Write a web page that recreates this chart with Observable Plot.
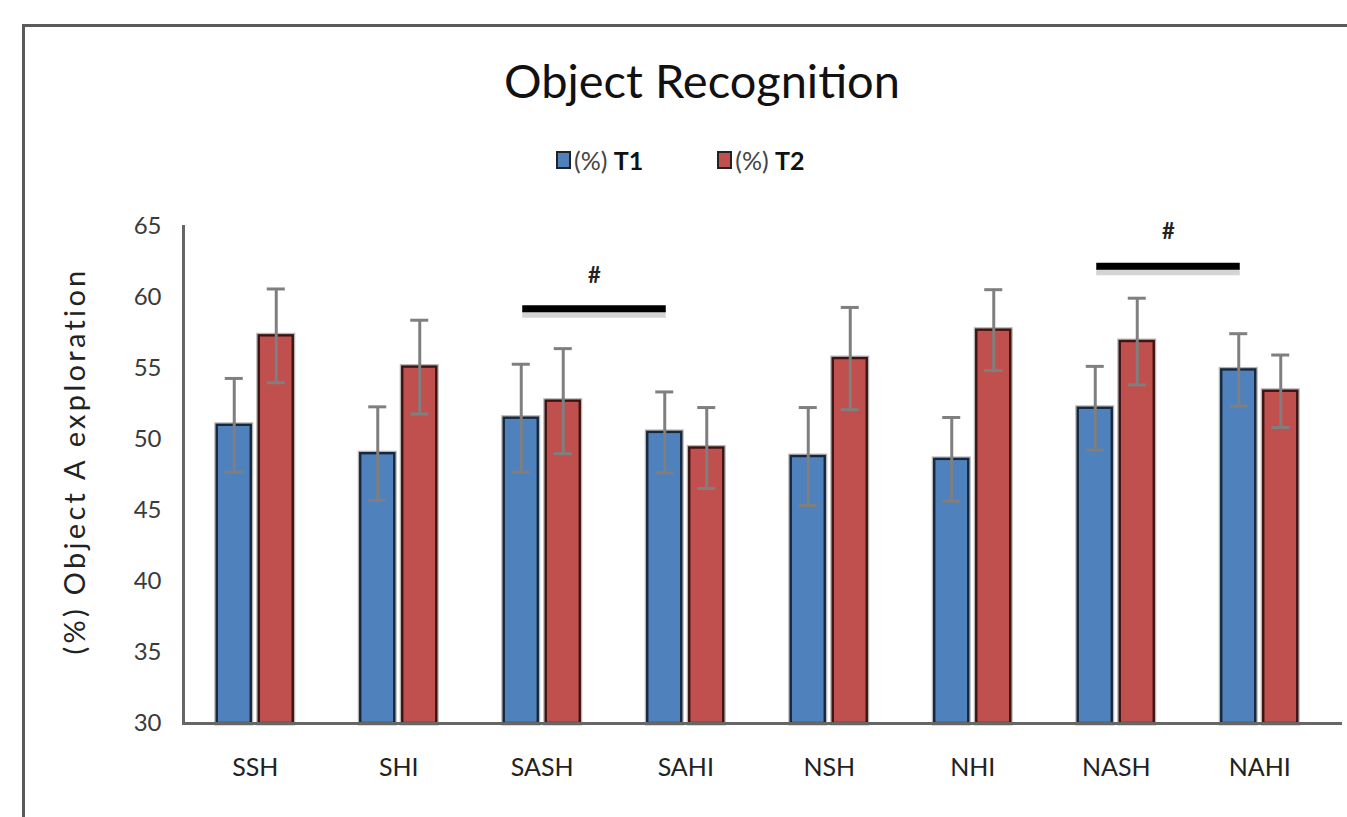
<!DOCTYPE html>
<html>
<head>
<meta charset="utf-8">
<script src="https://cdn.jsdelivr.net/npm/d3@7"></script>
<script src="https://cdn.jsdelivr.net/npm/@observablehq/plot@0.6"></script>
<style>
  html, body { margin: 0; padding: 0; background: #fff; }
  #page { position: relative; width: 1347px; height: 817px; overflow: hidden; font-family: Lato, "Open Sans", sans-serif; }
  #border { position: absolute; left: 22px; top: 24px; width: 1400px; height: 900px; border-left: 3px solid #5a5a5a; border-top: 3px solid #5a5a5a; }
  #title { position: absolute; left: 0; width: 1404px; top: 50px; text-align: center; font-size: 47px; color: #111; line-height: 60px; }
  #legend { position: absolute; top: 145px; left: 556px; display: flex; gap: 74px; font-size: 25px; color: #222; line-height: 30px; }
  .item { display: flex; align-items: center; gap: 3px; }
  .sw { width: 11px; height: 14px; border: 2px solid #222; }
  .lt b { font-weight: 700; color: #111; }
  .lt span { color: #444; }
  #ylabel { position: absolute; left: 73px; top: 461px; transform: translate(-50%, -50%) rotate(-90deg); white-space: nowrap; font-size: 29px; letter-spacing: 3.3px; color: #222; }
  #chart { position: absolute; left: 0; top: 200px; }
</style>
</head>
<body>
<div id="page">
  <div id="border"></div>
  <div id="title">Object Recognition</div>
  <div id="legend"></div>
  <div id="ylabel">(%) Object A exploration</div>
  <div id="chart"></div>
</div>
<script>
// ---- data ----
const categories = ["SSH", "SHI", "SASH", "SAHI", "NSH", "NHI", "NASH", "NAHI"];
const seriesNames = ["(%) T1", "(%) T2"];
const t1Values = [51.0, 49.0, 51.5, 50.5, 48.8, 48.6, 52.2, 54.9];
const t1Errors = [3.3, 3.3, 3.8, 2.85, 3.45, 2.95, 2.95, 2.55];
const t2Values = [57.3, 55.1, 52.7, 49.4, 55.7, 57.7, 56.9, 53.4];
const t2Errors = [3.3, 3.3, 3.7, 2.85, 3.6, 2.85, 3.05, 2.55];
const yTicks = [30, 35, 40, 45, 50, 55, 60, 65];
const sigFrom = ["SASH", "NASH"];
const sigTo = ["SAHI", "NAHI"];
const sigLineY = [59.2, 62.2];
const sigMarkY = [61.5, 64.6];
const sigLabel = ["#", "#"];

const colors = ["#4f81bd", "#c0504d"];
const strokes = ["#17283d", "#3d1414"];

// legend
const legend = document.getElementById("legend");
seriesNames.forEach((s, i) => {
  const it = document.createElement("div");
  it.className = "item";
  const sw = document.createElement("span");
  sw.className = "sw";
  sw.style.background = colors[i];
  const tx = document.createElement("span");
  tx.className = "lt";
  const k = s.lastIndexOf(" ");
  const a = document.createElement("span");
  a.textContent = s.slice(0, k + 1);
  const b = document.createElement("b");
  b.textContent = s.slice(k + 1);
  tx.append(a, b);
  it.append(sw, tx);
  legend.append(it);
});

const rows = categories.map((c, i) => ({cat: c, t1: t1Values[i], e1: t1Errors[i], t2: t2Values[i], e2: t2Errors[i]}));
const sig = sigFrom.map((a, i) => ({a, b: sigTo[i], y: sigLineY[i], ty: sigMarkY[i], label: sigLabel[i]}));

const off = 21;
const chart = Plot.plot({
  width: 1347,
  height: 617,
  marginLeft: 183,
  marginRight: 5,
  marginTop: 26,
  marginBottom: 94,
  style: {fontFamily: "Lato, 'Open Sans', sans-serif", fontSize: "24px", color: "#333", background: "transparent"},
  x: {type: "band", domain: categories, range: [183, 1331], paddingInner: 0.763, paddingOuter: 0.3815, round: false},
  y: {domain: [30, 65], clamp: true},
  marks: [
    Plot.axisY({ticks: yTicks, tickSize: 0, tickPadding: 22, label: null, fill: "#3a3a3a"}),
    Plot.axisX({tickSize: 0, tickPadding: 35, label: null, fill: "#222", fontSize: 25}),
    // soft halo
    Plot.barY(rows, {x: "cat", y: "t1", dx: -off, fill: "none", stroke: "#b5b5b5", strokeWidth: 5}),
    Plot.barY(rows, {x: "cat", y: "t2", dx: off, fill: "none", stroke: "#b5b5b5", strokeWidth: 5}),
    Plot.barY(rows, {x: "cat", y: "t1", dx: -off, fill: colors[0], stroke: strokes[0], strokeWidth: 2.4}),
    Plot.barY(rows, {x: "cat", y: "t2", dx: off, fill: colors[1], stroke: strokes[1], strokeWidth: 2.4}),
    // error bars
    Plot.ruleX(rows, {x: "cat", y1: d => d.t1 - d.e1, y2: d => d.t1 + d.e1, dx: -off, stroke: "#7f7f7f", strokeWidth: 3}),
    Plot.ruleX(rows, {x: "cat", y1: d => d.t2 - d.e2, y2: d => d.t2 + d.e2, dx: off, stroke: "#7f7f7f", strokeWidth: 3}),
    Plot.tickY(rows, {x: "cat", y: d => d.t1 - d.e1, dx: -off, insetLeft: 8, insetRight: 8, stroke: "#7f7f7f", strokeWidth: 3}),
    Plot.tickY(rows, {x: "cat", y: d => d.t1 + d.e1, dx: -off, insetLeft: 8, insetRight: 8, stroke: "#7f7f7f", strokeWidth: 3}),
    Plot.tickY(rows, {x: "cat", y: d => d.t2 - d.e2, dx: off, insetLeft: 8, insetRight: 8, stroke: "#7f7f7f", strokeWidth: 3}),
    Plot.tickY(rows, {x: "cat", y: d => d.t2 + d.e2, dx: off, insetLeft: 8, insetRight: 8, stroke: "#7f7f7f", strokeWidth: 3}),
    // axes lines
    Plot.ruleY([30], {stroke: "#666", strokeWidth: 3}),
    Plot.frame({anchor: "left", stroke: "#666", strokeWidth: 3}),
    // significance
    Plot.link(sig, {x1: "a", x2: "b", y1: "y", y2: "y", dx: -20, dy: 5, stroke: "#d4d4d4", strokeWidth: 8}),
    Plot.link(sig, {x1: "a", x2: "b", y1: "y", y2: "y", dx: -20, stroke: "#000", strokeWidth: 7}),
    Plot.text(sig, {x: "a", y: "ty", text: "label", dx: 52, fill: "#222", fontSize: 22, fontWeight: "bold"})
  ]
});
document.getElementById("chart").append(chart);
</script>
</body>
</html>
